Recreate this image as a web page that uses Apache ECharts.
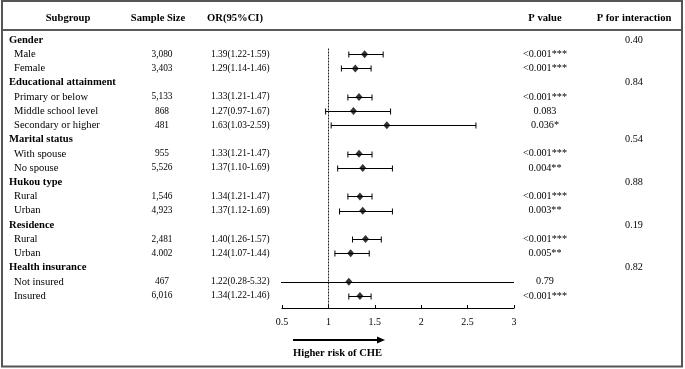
<!DOCTYPE html>
<html>
<head>
<meta charset="utf-8">
<script src="https://cdn.jsdelivr.net/npm/echarts@6/dist/echarts.min.js"></script>
<style>
  html, body { margin: 0; padding: 0; background: #fff; }
  #chart { width: 685px; height: 369px; }
</style>
</head>
<body>
<div id="chart"></div>
<script>
// rows of the table, top to bottom
var subgroups = ['Gender', 'Male', 'Female', 'Educational attainment', 'Primary or below', 'Middle school level',
  'Secondary or higher', 'Marital status', 'With spouse', 'No spouse', 'Hukou type', 'Rural', 'Urban',
  'Residence', 'Rural', 'Urban', 'Health insurance', 'Not insured', 'Insured'];
var isGroup = [1, 0, 0, 1, 0, 0, 0, 1, 0, 0, 1, 0, 0, 1, 0, 0, 1, 0, 0];
var sampleSize = ['', '3,080', '3,403', '', '5,133', '868', '481', '', '955', '5,526', '', '1,546', '4,923',
  '', '2,481', '4.002', '', '467', '6,016'];
var orValue = [null, 1.39, 1.29, null, 1.33, 1.27, 1.63, null, 1.33, 1.37, null, 1.34, 1.37, null, 1.40, 1.24, null, 1.22, 1.34];
var ciLow = [null, 1.22, 1.14, null, 1.21, 0.97, 1.03, null, 1.21, 1.10, null, 1.21, 1.12, null, 1.26, 1.07, null, 0.28, 1.22];
var ciHigh = [null, 1.59, 1.46, null, 1.47, 1.67, 2.59, null, 1.47, 1.69, null, 1.47, 1.69, null, 1.57, 1.44, null, 5.32, 1.46];
var pValue = ['', '<0.001***', '<0.001***', '', '<0.001***', '0.083', '0.036*', '', '<0.001***', '0.004**', '',
  '<0.001***', '0.003**', '', '<0.001***', '0.005**', '', '0.79', '<0.001***'];
var pInteraction = ['0.40', '', '', '0.84', '', '', '', '0.54', '', '', '0.88', '', '', '0.19', '', '', '0.82', '', ''];
var headers = ['Subgroup', 'Sample Size', 'OR(95%CI)', 'P value', 'P for interaction'];
var xTicks = [0.5, 3, 0.5]; // min, max, interval

var FONT = '"Liberation Serif", "Times New Roman", serif';
var ROW0 = 40, ROWH = 14.22;   // pixel y of first row, row pitch
var HEADER_ROW = -1.55;
var plotTop = 48.5, plotBottom = 308;

// text items for the table columns
var texts = [];
var headX = [68, 158, 235, 545, 634];
headers.forEach(function (h, k) {
  texts.push({ x: headX[k], row: HEADER_ROW, text: h, align: 'center', bold: true, size: 10.6 });
});
subgroups.forEach(function (s, i) {
  texts.push({ x: isGroup[i] ? 9 : 14, row: i, text: s, align: 'left', bold: !!isGroup[i], size: 10.6 });
  if (sampleSize[i]) texts.push({ x: 162, row: i, text: sampleSize[i], align: 'center', bold: false, size: 9.4 });
  if (orValue[i] != null) {
    var t = orValue[i].toFixed(2) + '(' + ciLow[i].toFixed(2) + '-' + ciHigh[i].toFixed(2) + ')';
    texts.push({ x: 211, row: i, text: t, align: 'left', bold: false, size: 9.4 });
  }
  if (pValue[i]) texts.push({ x: 545, row: i, text: pValue[i], align: 'center', bold: false, size: 10.2 });
  if (pInteraction[i]) texts.push({ x: 634, row: i, text: pInteraction[i], align: 'center', bold: false, size: 10.2 });
});

var points = [], bars = [];
orValue.forEach(function (v, i) {
  if (v == null) return;
  points.push([v, i]);
  bars.push([ciLow[i], ciHigh[i], i]);
});

function renderText(params, api) {
  var t = texts[params.dataIndex];
  var p = api.coord([api.value(0), api.value(1)]);
  return {
    type: 'text',
    x: p[0], y: p[1],
    style: {
      text: t.text, fill: '#000',
      font: (t.bold ? 'bold ' : '') + t.size + 'px ' + FONT,
      align: t.align, verticalAlign: 'middle'
    }
  };
}

function renderBar(params, api) {
  var cs = params.coordSys;
  var a = api.coord([api.value(0), api.value(2)]);
  var b = api.coord([api.value(1), api.value(2)]);
  var y = Math.round(a[1]) + 0.5;
  var x1 = Math.max(a[0], cs.x - 1), x2 = Math.min(b[0], cs.x + cs.width);
  var st = { stroke: '#000', lineWidth: 1 };
  var kids = [{ type: 'line', shape: { x1: x1, y1: y, x2: x2, y2: y }, style: st }];
  if (a[0] >= cs.x) kids.push({ type: 'line', shape: { x1: a[0], y1: y - 3, x2: a[0], y2: y + 3 }, style: st });
  if (b[0] <= cs.x + cs.width) kids.push({ type: 'line', shape: { x1: b[0], y1: y - 3, x2: b[0], y2: y + 3 }, style: st });
  return { type: 'group', children: kids };
}

var chart = echarts.init(document.getElementById('chart'));
var option = {
  animation: false,
  backgroundColor: '#fff',
  grid: [
    { left: 282, width: 232, top: plotTop, height: plotBottom - plotTop },
    { left: 0, right: 0, top: 0, bottom: 0 }
  ],
  xAxis: [
    {
      gridIndex: 0, type: 'value', min: xTicks[0], max: xTicks[1], interval: xTicks[2],
      axisLine: { show: true, onZero: false, lineStyle: { color: '#000', width: 1.2 } },
      axisTick: { show: true, inside: true, length: 3, lineStyle: { color: '#000' } },
      axisLabel: { color: '#000', fontFamily: FONT, fontSize: 10, margin: 9 },
      splitLine: { show: false }
    },
    { gridIndex: 1, type: 'value', min: 0, max: 685, show: false }
  ],
  yAxis: [
    {
      gridIndex: 0, type: 'value', inverse: true, show: false,
      min: (plotTop - ROW0) / ROWH, max: (plotBottom - ROW0) / ROWH
    },
    {
      gridIndex: 1, type: 'value', inverse: true, show: false,
      min: -ROW0 / ROWH, max: (369 - ROW0) / ROWH
    }
  ],
  series: [
    {
      type: 'custom', xAxisIndex: 0, yAxisIndex: 0, renderItem: renderBar,
      data: bars, clip: false, silent: true,
      markLine: {
        silent: true, symbol: 'none', label: { show: false },
        lineStyle: { color: '#222', type: [2, 1], width: 1 },
        data: [{ xAxis: 1 }]
      }
    },
    {
      type: 'scatter', xAxisIndex: 0, yAxisIndex: 0, data: points,
      symbol: 'diamond', symbolSize: [7, 8], itemStyle: { color: '#000' }, silent: true
    },
    {
      type: 'custom', xAxisIndex: 1, yAxisIndex: 1, renderItem: renderText,
      data: texts.map(function (t) { return [t.x, t.row]; }), clip: false, silent: true
    }
  ],
  graphic: [
    { type: 'rect', shape: { x: 2, y: 1, width: 680, height: 365.5 }, style: { fill: 'none', stroke: '#555', lineWidth: 2 } },
    { type: 'line', shape: { x1: 3, y1: 30, x2: 681, y2: 30 }, style: { stroke: '#222', lineWidth: 1.5 } },
    { type: 'line', shape: { x1: 293, y1: 340, x2: 378, y2: 340 }, style: { stroke: '#000', lineWidth: 2 } },
    { type: 'polygon', shape: { points: [[377, 336.5], [385, 340], [377, 343.5]] }, style: { fill: '#000' } },
    {
      type: 'text', x: 293, y: 353,
      style: { text: 'Higher risk of CHE', font: 'bold 10.6px ' + FONT, fill: '#000', verticalAlign: 'middle' }
    }
  ]
};
chart.setOption(option);
</script>
</body>
</html>
